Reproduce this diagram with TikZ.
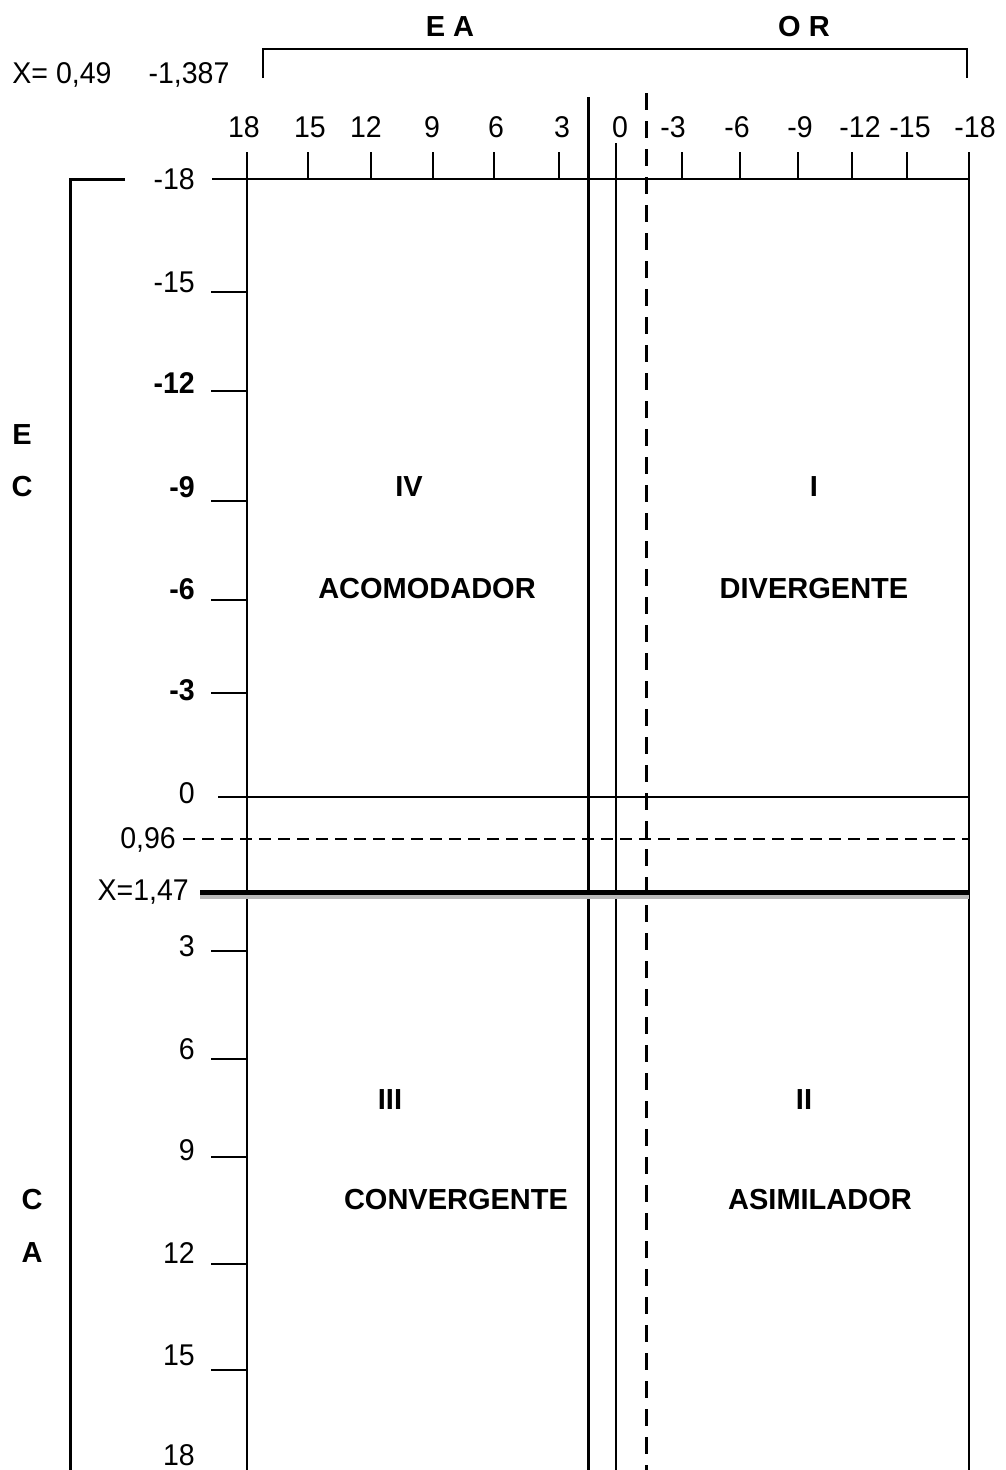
\documentclass[tikz,border=0pt]{standalone}
\usepackage{fontspec}
\setmainfont{Liberation Sans}
\usetikzlibrary{positioning}

\begin{document}
\begin{tikzpicture}[
    x=1pt, y=-1pt,
    num/.style={inner sep=0pt, xscale=0.95, font=\fontsize{30}{34}\selectfont},
    bnum/.style={inner sep=0pt, xscale=0.95, font=\fontsize{30}{34}\selectfont\bfseries},
    quad/.style={inner sep=0pt, font=\fontsize{29}{34}\selectfont\bfseries},
    rule/.style={line width=2pt},
    tick/.style={line width=1.6pt},
    divide/.style={line width=3pt},
    dashline/.style={line width=3pt, dash pattern=on 17pt off 11pt}
]
\useasboundingbox (0,0) rectangle (1006,1470);

% top bracket and headings
\draw[rule] (263,78) -- (263,49) -- (967,49) -- (967,78);
\node[quad] (ea) at (450,27) {E A};
\node[quad] (or) at (804,27) {O R};
\node[num] (xtop) at (62,75) {X= 0,49};
\node[num] (xval) at (189,75) {-1,387};

% horizontal scale
\draw[rule] (212,179) -- (969,179);
\foreach \v/\x/\lx [count=\i] in {18/247/244,15/308/310,12/371/366,9/433/432,6/494/496,3/559/562,
    -3/682/673,-6/740/737,-9/798/800,-12/852/860,-15/907/910,-18/969/975}{
  \draw[tick] (\x,152) -- (\x,179);
  \node[num, anchor=south] (xl\i) at (\lx,138) {\v};
}
\node[num, anchor=south] (xl0) at (620,138) {0};

% vertical dividers
\draw[rule] (247,152) -- (247,1470);
\draw[divide] (588,97) -- (588,1470);
\draw[tick] (616,143) -- (616,1470);
\draw[dashline] (646,93) -- (646,1470);
\draw[rule] (969,152) -- (969,1470);

% vertical scale
\draw[line width=3pt] (125,179) -- (70,179) -- (70,1470);
\foreach \y in {292,391,501,600,693,951,1059,1157,1264,1370}
  \draw[tick] (211,\y) -- (247,\y);
\foreach \v/\y [count=\i] in {-18/179,-15/282,0/793,3/946,6/1049,9/1150,12/1253,15/1355,18/1455}
  \node[num, anchor=east] (yl\i) at (195,\y) {\v};
\foreach \v/\y [count=\i] in {-12/383,-9/487,-6/589,-3/690}
  \node[bnum, anchor=east] (yb\i) at (195,\y) {\v};
\node[num, anchor=east] (ydash) at (176,840) {0,96};
\node[num, anchor=east] (ythick) at (189,892) {X=1,47};

% horizontal dividers
\draw[tick] (218,797) -- (969,797);
\draw[line width=1.8pt, dash pattern=on 12pt off 7pt] (183,839) -- (969,839);
\draw[gray!55, line width=4pt] (200,897) -- (969,897);
\draw[line width=5pt] (200,892) -- (969,892);

% side letters
\node[quad] (e1) at (22,435) {E};
\node[quad] (c1) at (22,487) {C};
\node[quad] (c2) at (32,1200) {C};
\node[quad] (a2) at (32,1253) {A};

% quadrants
\node[quad] (q4) at (409,487) {IV};
\node[quad] (acom) at (427,589) {ACOMODADOR};
\node[quad] (q1) at (814,487) {I};
\node[quad] (div) at (814,589) {DIVERGENTE};
\node[quad] (q3) at (390,1100) {III};
\node[quad] (conv) at (456,1200) {CONVERGENTE};
\node[quad] (q2) at (804,1100) {II};
\node[quad] (asim) at (820,1200) {ASIMILADOR};

\end{tikzpicture}
\end{document}
